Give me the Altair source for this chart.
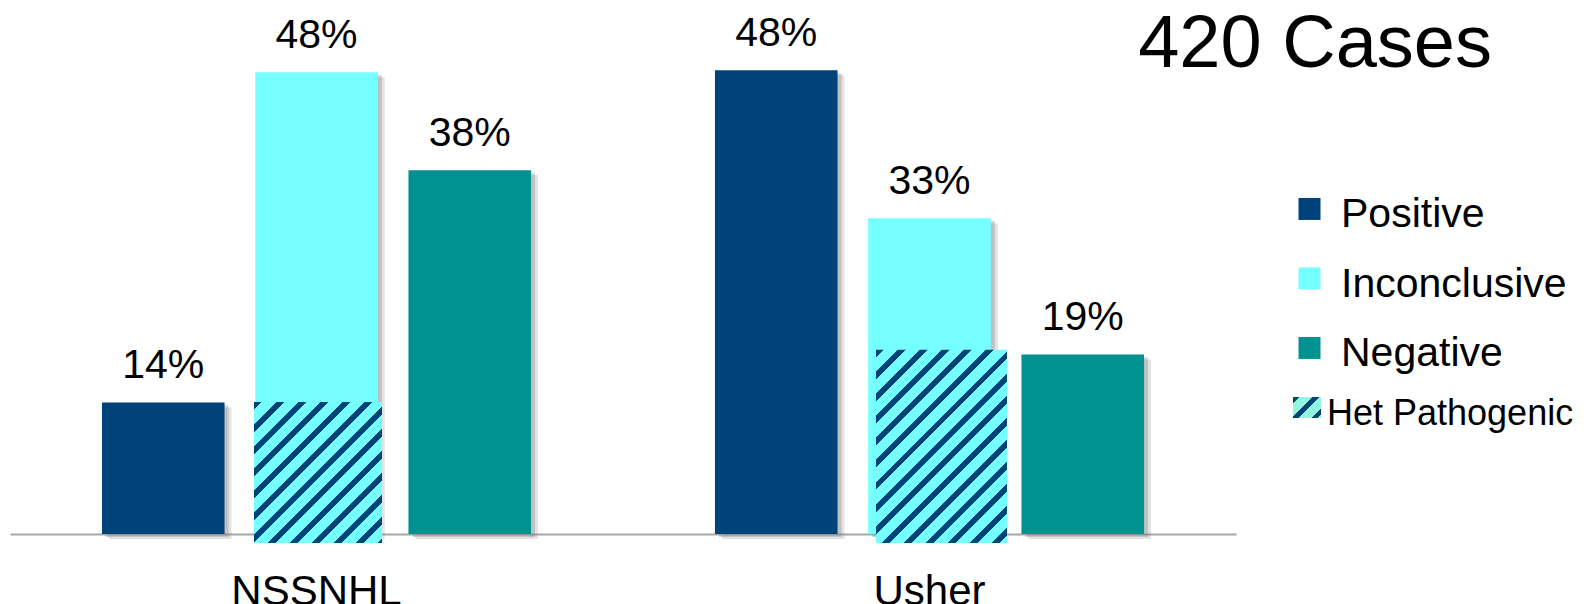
import math
import altair as alt
import pandas as pd

# ---------------- data ----------------
GROUPS = ["NSSNHL", "Usher"]
CATEGORIES = ["Positive", "Inconclusive", "Negative"]
POSITIVE = [13.7, 48.3]
INCONCLUSIVE = [48.1, 32.9]
NEGATIVE = [37.9, 18.7]
HET_PATHOGENIC = [13.75, 19.2]          # hatched overlay inside the Inconclusive bars
TITLE = "420 Cases"
HET_LABEL = "Het Pathogenic"

COLORS = ["#00437A", "#75FFFF", "#009191"]
NAVY, CYAN, MINT = "#00437A", "#75FFFF", "#93F5DE"
FONT = "Liberation Sans"

rows = []
for i, g in enumerate(GROUPS):
    for c, vals in zip(CATEGORIES, [POSITIVE, INCONCLUSIVE, NEGATIVE]):
        rows.append({"group": g, "category": c, "value": vals[i]})
df = pd.DataFrame(rows)
het_df = pd.DataFrame({"group": GROUPS, "category": ["Inconclusive"] * len(GROUPS), "het": HET_PATHOGENIC})

# ---------------- layout ----------------
W, H, YMAX = 1226, 480, 50
PX = H / YMAX
BAND = W / len(GROUPS)
HATCH_EXT = 9            # hatched picture hangs below the axis
HATCH_W = [128, 131]
HATCH_DX = [1.5, 12]


def stripe_gradient(w, h, c_line, c_bg, period=15.6, frac=0.36):
    """45-degree '/' stripes as a sharp-stop linear gradient in bbox units."""
    k = (w + h) / (w * w + h * h)
    L = (w + h) / math.sqrt(2)
    stops = []
    i = 0
    while i * period < L:
        a = i * period / L
        b = min((i + frac) * period / L, 1.0)
        c = min((i + 1) * period / L, 1.0)
        stops += [(a, c_line), (b, c_line), (b, c_bg), (c, c_bg)]
        i += 1
    return alt.LinearGradient(
        gradient="linear", x1=0, y1=0, x2=k * w, y2=k * h,
        stops=[alt.GradientStop(offset=round(o, 5), color=col) for o, col in stops],
    )


x_enc = alt.X(
    "group:N",
    scale=alt.Scale(domain=GROUPS, paddingInner=0, paddingOuter=0),
    axis=alt.Axis(
        title=None, labelAngle=0, labelFont=FONT, labelFontSize=42, labelColor="black",
        labelPadding=37, ticks=False, tickSize=0, domainColor="#A6A6A6", domainWidth=2,
        grid=False, zindex=0,
    ),
)


def xo(shift=0.0):
    return alt.XOffset(
        "category:N",
        scale=alt.Scale(type="band", domain=CATEGORIES, paddingInner=0.2, paddingOuter=0.6,
                        range=[shift, BAND + shift]),
    )


y_scale = alt.Scale(domain=[0, YMAX])
y_enc = alt.Y("value:Q", scale=y_scale, axis=None)

shadow1 = alt.Chart(df).mark_bar(color="#808080", opacity=0.22, yOffset=5).encode(
    x=x_enc, xOffset=xo(7), y=y_enc)
shadow2 = alt.Chart(df).mark_bar(color="#808080", opacity=0.35, yOffset=3).encode(
    x=x_enc, xOffset=xo(4), y=y_enc)

bars = alt.Chart(df).mark_bar().encode(
    x=x_enc, xOffset=xo(0), y=y_enc,
    color=alt.Color(
        "category:N",
        scale=alt.Scale(domain=CATEGORIES, range=COLORS),
        legend=alt.Legend(
            title=None, orient="none", legendX=1279, legendY=140.5, direction="vertical",
            symbolType="M-1,-1.55H1V0.45H-1Z", symbolSize=484, symbolStrokeWidth=0,
            symbolOpacity=1, labelFont=FONT, labelFontSize=41, labelColor="black",
            labelOffset=11, rowPadding=27.5, padding=0, labelLimit=400,
        ),
    ),
)

hatch_layers = []
for i, g in enumerate(GROUPS):
    h_px = HET_PATHOGENIC[i] * PX + HATCH_EXT
    grad = stripe_gradient(HATCH_W[i], h_px, NAVY, CYAN)
    hatch_layers.append(
        alt.Chart(het_df)
        .transform_filter(alt.datum.group == g)
        .mark_bar(color=grad, width=HATCH_W[i], y2Offset=HATCH_EXT)
        .encode(
            x=x_enc,
            xOffset=xo(HATCH_DX[i]),
            y=alt.Y("het:Q", scale=y_scale, axis=None),
            y2=alt.Y2(datum=0),
        )
    )

labels = alt.Chart(df).transform_calculate(
    label="format(datum.value, '.0f') + '%'"
).mark_text(
    dy=-24, baseline="alphabetic", align="center", font=FONT, fontSize=41, color="black"
).encode(
    x=x_enc,
    xOffset=xo(0),
    y=y_enc,
    text="label:N",
)

title = alt.Chart(pd.DataFrame({"t": [TITLE]})).mark_text(
    align="right", baseline="alphabetic", font=FONT, fontSize=74, color="black"
).encode(x=alt.value(1482), y=alt.value(13), text="t:N")

het_swatch = alt.Chart(pd.DataFrame({"t": [HET_LABEL]})).mark_rect(
    color=stripe_gradient(28, 21, NAVY, MINT, period=14, frac=0.32)
).encode(x=alt.value(1283), x2=alt.value(1311), y=alt.value(343), y2=alt.value(364))

het_text = alt.Chart(pd.DataFrame({"t": [HET_LABEL]})).mark_text(
    align="left", baseline="alphabetic", font=FONT, fontSize=36, color="black"
).encode(x=alt.value(1317), y=alt.value(371), text="t:N")

chart = alt.layer(
    shadow1, shadow2, bars, *hatch_layers, labels, title, het_swatch, het_text
).resolve_scale(
    xOffset="independent"
).properties(
    width=W, height=H,
    padding={"left": 10, "top": 54, "right": 350, "bottom": 70},
    autosize=alt.AutoSizeParams(type="none"),
    background="white",
).configure_view(stroke=None, strokeWidth=0)

chart.save("out.html", embed_options={"renderer": "svg", "actions": False})
